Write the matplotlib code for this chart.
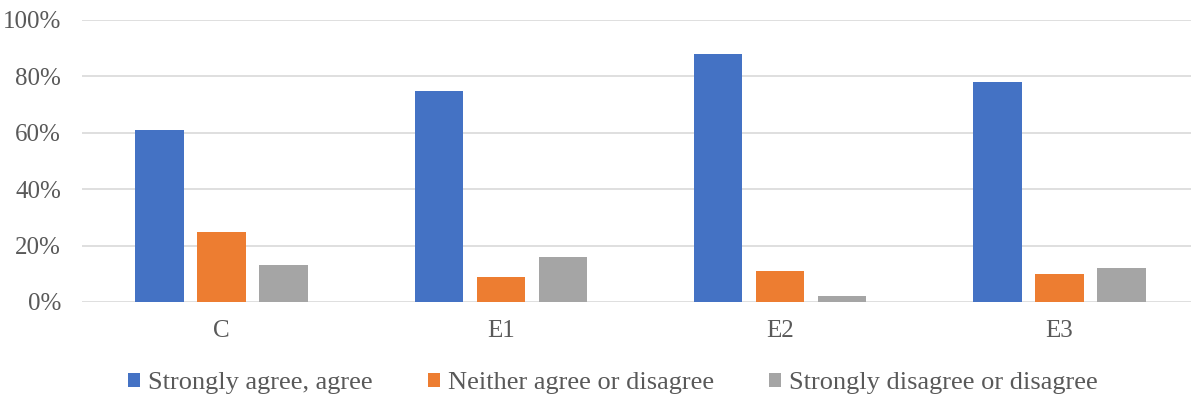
import numpy as np
import matplotlib.pyplot as plt
from matplotlib.ticker import PercentFormatter

categories = ["C", "E1", "E2", "E3"]
agree = [61, 75, 88, 78]
neither = [25, 9, 11, 10]
disagree = [13, 16, 2, 12]
series_names = ["Strongly agree, agree", "Neither agree or disagree",
                "Strongly disagree or disagree"]
colors = ["#4472C4", "#ED7D31", "#A5A5A5"]

plt.rcParams['font.family'] = ['Liberation Serif', 'DejaVu Serif']

fig = plt.figure(figsize=(11.91, 4.01), dpi=100)
ax = fig.add_axes([82 / 1191, 99 / 401, 1 - 82 / 1191, 282 / 401])

x = np.arange(len(categories))
width = 0.174
step = 0.222
for i, (vals, name, c) in enumerate(zip([agree, neither, disagree], series_names, colors)):
    ax.bar(x + (i - 1) * step, np.array(vals) / 100, width, color=c, label=name,
           zorder=3)

ax.set_xlim(-0.5, 3.471)
ax.set_ylim(0, 1.0)
ax.set_yticks(np.arange(0, 1.01, 0.2))
ax.yaxis.set_major_formatter(PercentFormatter(1.0, decimals=0))
ax.set_xticks(x)
ax.set_xticklabels(categories)
ax.grid(axis='y', color='#D9D9D9', linewidth=1.2, zorder=0)
ax.set_axisbelow(True)
for s in ax.spines.values():
    s.set_visible(False)
ax.tick_params(length=0, labelsize=18, colors='#595959')
ax.tick_params(axis='x', pad=13)
ax.tick_params(axis='y', pad=15)

fig.legend(loc='center', bbox_to_anchor=(613 / 1191, 18 / 401), ncol=3,
           frameon=False, fontsize=19, handlelength=0.45, handleheight=0.45,
           handletextpad=0.3, columnspacing=2.1, labelcolor='#595959')

fig.savefig("out.png", dpi=100)
